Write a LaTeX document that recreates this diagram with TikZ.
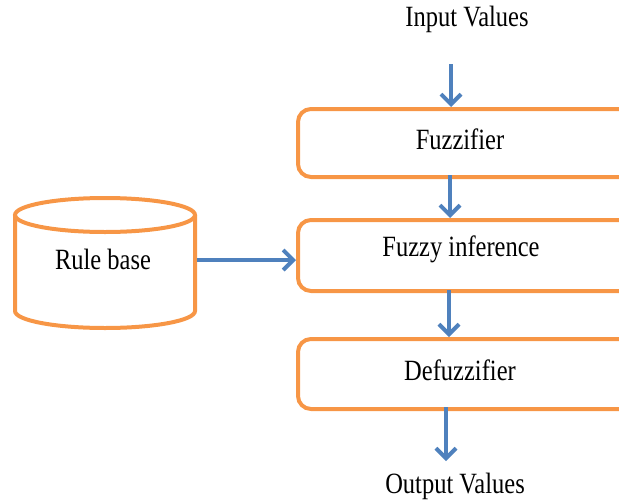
\documentclass[tikz,border=0pt]{standalone}
\usepackage{fontspec}
\setmainfont{Liberation Serif}
\usetikzlibrary{arrows.meta}
\definecolor{boxor}{HTML}{F79646}
\definecolor{arrbl}{HTML}{4F81BD}
\begin{document}
\begin{tikzpicture}[x=1pt,y=-1pt,
  stage/.style={draw=boxor,line width=4pt,rounded corners=13pt,rectangle,inner sep=0pt},
  lbl/.style={font=\fontsize{24.5}{27}\selectfont,yscale=1.2,transform shape,inner sep=0pt},
  arr/.style={draw=arrbl,line width=4.5pt,-{Straight Barb[length=10pt,width=20pt,line width=4pt]}}]
\useasboundingbox (0,0) rectangle (619,501);
\clip (0,0) rectangle (619,501);
% boxes (extending past right edge)
\node[stage,minimum width=380pt,minimum height=68pt,anchor=north west] (fuzz) at (296,107) {};
\node[stage,minimum width=380pt,minimum height=71pt,anchor=north west] (inf) at (296,218) {};
\node[stage,minimum width=380pt,minimum height=70pt,anchor=north west] (defz) at (296,337) {};
% texts
\node[lbl] (in) at (467,19) {Input Values};
\node[lbl] (fuzzt) at (460,139) {Fuzzifier};
\node[lbl] (inft) at (461,249) {Fuzzy inference};
\node[lbl] (defzt) at (460,370) {Defuzzifier};
\node[lbl] (out) at (455,486) {Output Values};
% cylinder
\draw[draw=boxor,line width=4pt] (15,215) -- (15,311) arc[start angle=180,end angle=0,x radius=90,y radius=17] -- (195,215);
\draw[draw=boxor,line width=4pt] (105,215) ellipse[x radius=90,y radius=17];
\node[lbl] (rbt) at (103,259) {Rule base};
\node[inner sep=0pt,minimum width=184pt,minimum height=133pt] (rb) at (105,263) {};
% connectors
\coordinate (a0) at (451,64);
\draw[arr] (a0) -- (a0 |- fuzz.north);
\coordinate (a1) at (450,175);
\draw[arr] (a1) -- (a1 |- inf.north);
\coordinate (a2) at (449,290);
\draw[arr] (a2) -- (a2 |- defz.north);
\coordinate (a3) at (446,407);
\draw[arr] (a3) -- (446,461);
\draw[arr] (rb.east |- 0,260) -- (inf.west |- 0,260);
\end{tikzpicture}
\end{document}
